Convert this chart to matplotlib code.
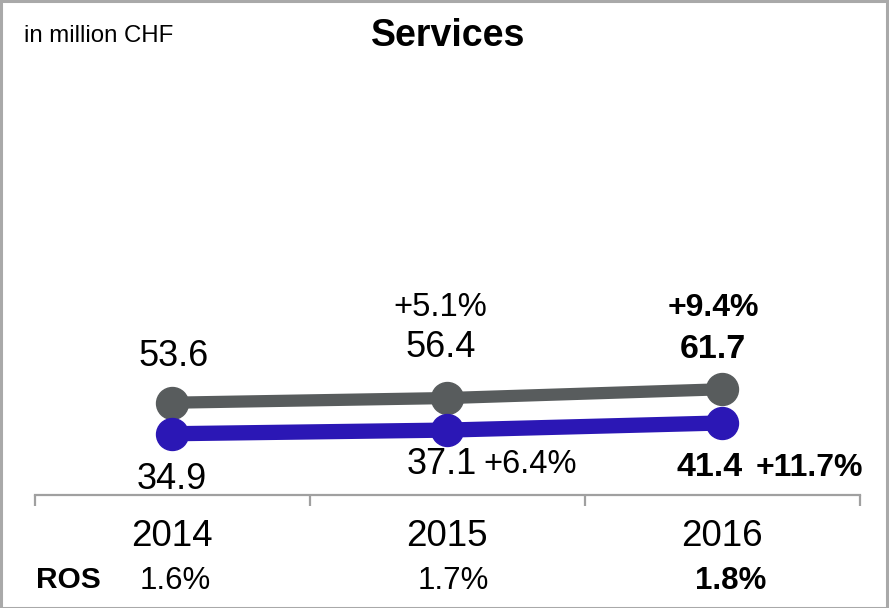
import matplotlib
matplotlib.use("Agg")
import matplotlib.pyplot as plt
from matplotlib.patches import Rectangle

plt.rcParams['font.family'] = ['Liberation Sans', 'DejaVu Sans']

years = ["2014", "2015", "2016"]
sales = [53.6, 56.4, 61.7]
ebit = [34.9, 37.1, 41.4]
sales_growth = [None, "+5.1%", "+9.4%"]
ebit_growth = [None, "+6.4%", "+11.7%"]
ros = ["1.6%", "1.7%", "1.8%"]

# label offsets (pixels)
sales_off = [(2, 46), (-6, 51), (-9, 40)]
ebit_off = [(0, -46), (-5, -34), (-12, -45)]

W, H = 889, 608
fig = plt.figure(figsize=(W / 100, H / 100), dpi=100)
fig.patch.set_facecolor("white")

# figure border
fig.add_artist(Rectangle((0.5 / W, 0.5 / H), (W - 3) / W, (H - 1) / H,
                         transform=fig.transFigure, fill=False,
                         edgecolor="#a9a9a9", linewidth=2.2))

ax_left, ax_right = 34.5, 859.5
ax_bottom_px = H - 495
k = 1.66
ymin, ymax = -2, 250
ax_h = (ymax - ymin) * k
ax = fig.add_axes([ax_left / W, ax_bottom_px / H, (ax_right - ax_left) / W, ax_h / H])
ax.set_xlim(-0.5, 2.5)
ax.set_ylim(ymin, ymax)
ax.patch.set_alpha(0)
for s in ["top", "right", "left"]:
    ax.spines[s].set_visible(False)
ax.spines["bottom"].set_color("#a0a0a0")
ax.spines["bottom"].set_linewidth(1.6)
ax.set_yticks([])
ax.set_xticks([-0.5, 0.5, 1.5, 2.5])
ax.set_xticklabels([])
ax.tick_params(axis="x", direction="out", length=8, width=1.6, color="#a0a0a0")

x = list(range(len(years)))
gray = "#585c5d"
blue = "#2b17b5"
ax.plot(x, sales, color=gray, lw=8.8, marker="o", ms=23, solid_capstyle="round", zorder=3)
ax.plot(x, ebit, color=blue, lw=11, marker="o", ms=23, solid_capstyle="round", zorder=4)

fs = 26
for i in x:
    last = i == len(x) - 1
    w = "bold" if last else "normal"
    f = 24.5 if last else fs
    ax.annotate(f"{sales[i]:.1f}", (i, sales[i]), xytext=sales_off[i],
                textcoords="offset pixels", ha="center", va="center", fontsize=f, fontweight=w)
    ax.annotate(f"{ebit[i]:.1f}", (i, ebit[i]), xytext=ebit_off[i],
                textcoords="offset pixels", ha="center", va="center", fontsize=f, fontweight=w)

# growth labels
ax.annotate(sales_growth[1], (1, sales[1]), xytext=(-7, 91), textcoords="offset pixels",
            ha="center", va="center", fontsize=23.5)
ax.annotate(sales_growth[2], (2, sales[2]), xytext=(-9, 81), textcoords="offset pixels",
            ha="center", va="center", fontsize=23, fontweight="bold")
ax.annotate(ebit_growth[1], (1, ebit[1]), xytext=(36, -34), textcoords="offset pixels",
            ha="left", va="center", fontsize=23.5)
ax.annotate(ebit_growth[2], (2, ebit[2]), xytext=(34, -45), textcoords="offset pixels",
            ha="left", va="center", fontsize=23, fontweight="bold")

# category labels and ROS row
for i in x:
    ax.annotate(years[i], (i, 0), xycoords=("data", "axes fraction"), xytext=(0, -42),
                textcoords="offset pixels", ha="center", va="center", fontsize=26.5)
    ax.annotate(ros[i], (i, 0), xycoords=("data", "axes fraction"), xytext=(3 + 3 * i, -86),
                textcoords="offset pixels", ha="center", va="center", fontsize=22.5,
                fontweight="bold" if i == len(x) - 1 else "normal")
fig.text(36 / W, 1 - 580 / H, "ROS", ha="left", va="center", fontsize=21.5, fontweight="bold")

fig.text(448 / W, 1 - 36 / H, "Services", ha="center", va="center", fontsize=27, fontweight="bold")
fig.text(24 / W, 1 - 36 / H, "in million CHF", ha="left", va="center", fontsize=17.3)

fig.savefig("out.png", dpi=100)
